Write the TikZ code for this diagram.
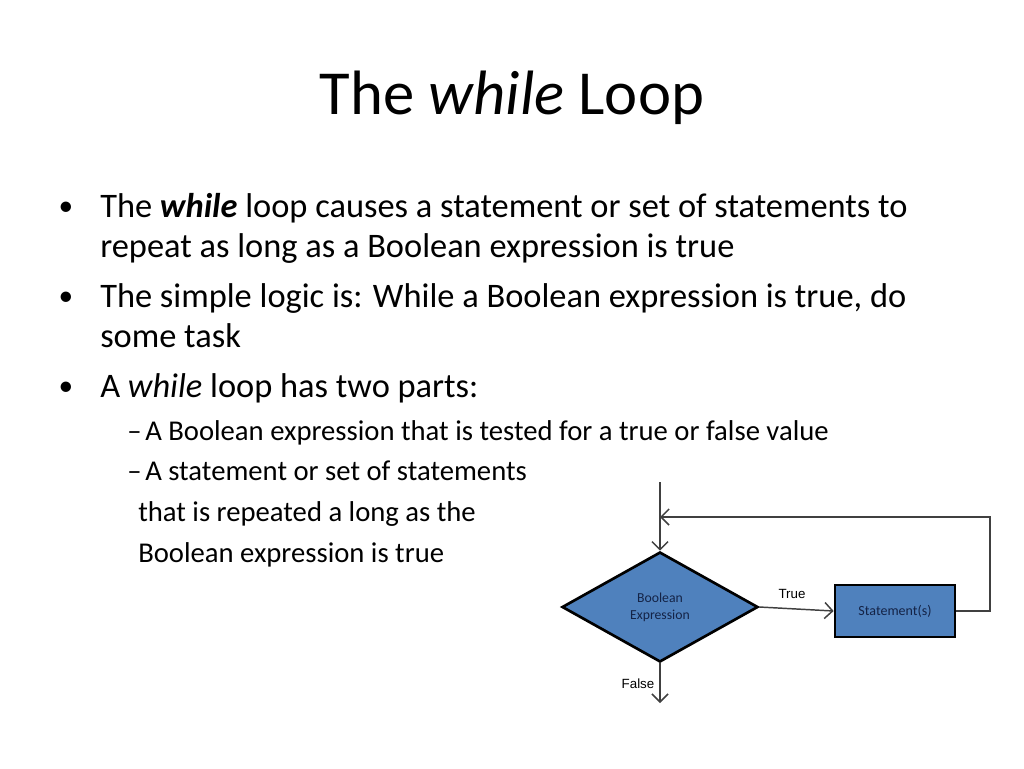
\documentclass[tikz,border=0pt]{standalone}
\usepackage{fontspec}
\setmainfont{Carlito}
\newfontfamily\arialf{Liberation Sans}
\usetikzlibrary{shapes.geometric,arrows.meta}
\begin{document}
\begin{tikzpicture}[x=0.75pt,y=-0.75pt,
  txt/.style={anchor=base west,inner sep=0,font=\fontsize{25.8}{30}\selectfont},
  sub/.style={anchor=base west,inner sep=0,font=\fontsize{21.5}{26}\selectfont},
  bul/.style={anchor=base,inner sep=0,font=\fontsize{22}{26}\selectfont},
  flow/.style={draw=black,line width=2pt,fill={rgb,255:red,79;green,129;blue,189}},
  conn/.style={draw=black!75,line width=1.1pt,-{Straight Barb[length=6pt,width=12pt]}},
  lab/.style={font=\arialf\fontsize{10}{12}\selectfont,inner sep=0}]
\useasboundingbox (0,0) rectangle (1024,768);
\fill[white] (0,0) rectangle (1024,768);
\node[inner sep=0,font=\fontsize{47}{56}\selectfont] (title) at (512,98) {The \textit{while} Loop};
\node[bul] (b1) at (66,215) {•};
\node[txt] (l1) at (100,217) {The \textbf{\textit{while}} loop causes a statement or set of statements to};
\node[txt] (l2) at (100,257) {repeat as long as a Boolean expression is true};
\node[bul] (b2) at (66,305) {•};
\node[txt] (l3) at (100,307) {The simple logic is: While a Boolean expression is true, do};
\node[txt] (l4) at (100,347) {some task};
\node[bul] (b3) at (66,395) {•};
\node[txt] (l5) at (100,397) {A \textit{while} loop has two parts:};
\node[sub] (d1) at (127,440) {–};
\node[sub] (s1) at (145,440) {A Boolean expression that is tested for a true or false value};
\node[sub] (d2) at (127,480) {–};
\node[sub] (s2) at (145,480) {A statement or set of statements};
\node[sub] (s3) at (138,521) {that is repeated a long as the};
\node[sub] (s4) at (138,562) {Boolean expression is true};
\node[flow,diamond,minimum width=196*0.75pt,minimum height=110*0.75pt,inner sep=0,aspect=1.78,
  font=\fontsize{10.3}{12.5}\selectfont,align=center,text={rgb,255:red,20;green,35;blue,70}] (dec) at (660,607) {Boolean\\Expression};
\node[flow,rectangle,minimum width=120*0.75pt,minimum height=52*0.75pt,inner sep=0,
  font=\fontsize{10.5}{12}\selectfont,text={rgb,255:red,20;green,35;blue,70}] (st) at (895,611) {Statement(s)};
\coordinate (top) at (660,482);
\coordinate (out) at (660,703);
\coordinate (c1) at (990,611);
\coordinate (c2) at (990,517);
\coordinate (c3) at (660,517);
\draw[conn] (top) -- (dec.north);
\draw[conn] (dec.east) -- (st.west);
\draw[conn] (dec.south) -- (out);
\draw[conn] (st.east) -- (c1) -- (c2) -- (c3);
\node[lab] (t) at (792,594) {True};
\node[lab] (f) at (638,684) {False};
\end{tikzpicture}
\end{document}
